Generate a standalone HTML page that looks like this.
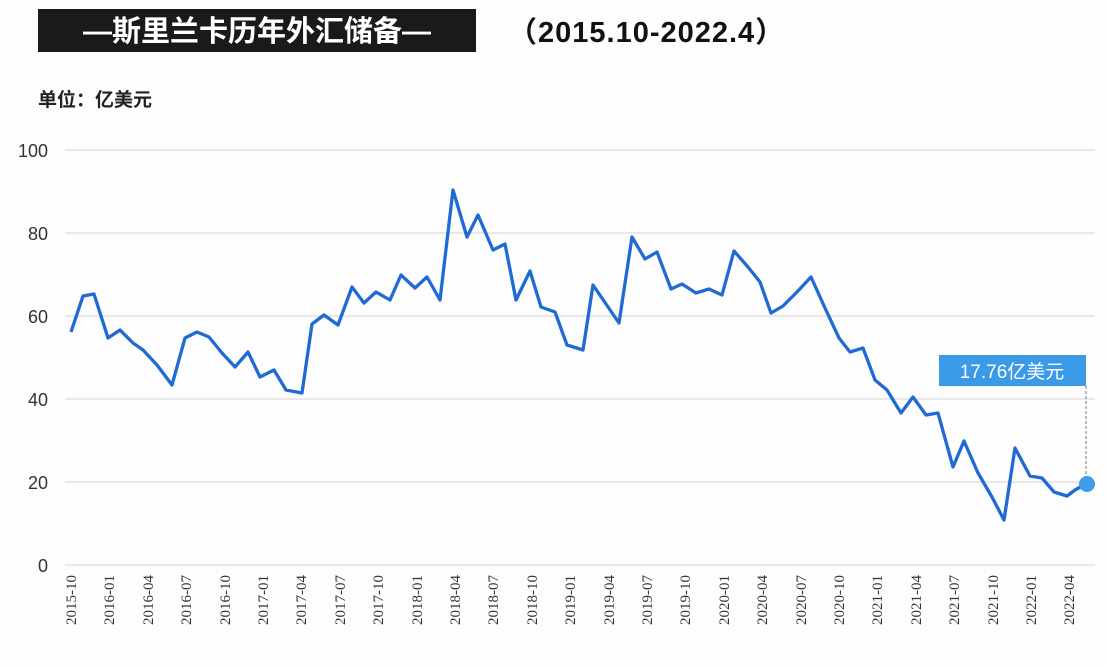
<!DOCTYPE html>
<html><head><meta charset="utf-8"><style>
body{margin:0;width:1106px;height:664px;background:#fdfdfd;overflow:hidden;font-family:"Liberation Sans","Noto Sans CJK SC",sans-serif;}
</style></head><body>
<svg width="1106" height="664" xmlns="http://www.w3.org/2000/svg">
<rect x="38" y="9" width="438" height="43" fill="#1a1a1a"/>
<text x="257" y="41" text-anchor="middle" font-size="29" font-weight="bold" fill="#fff" font-family="Liberation Sans,Noto Sans CJK SC,sans-serif">—斯里兰卡历年外汇储备—</text>
<text x="508" y="42" font-size="29" font-weight="bold" fill="#111" letter-spacing="1" font-family="Liberation Sans,Noto Sans CJK SC,sans-serif">（2015.10-2022.4）</text>
<text x="38" y="106" font-size="19" font-weight="bold" fill="#222" font-family="Liberation Sans,Noto Sans CJK SC,sans-serif">单位：亿美元</text>
<g stroke="#dcdcdc" stroke-width="1.2">
<line x1="65" y1="150" x2="1095" y2="150"/><line x1="65" y1="233" x2="1095" y2="233"/><line x1="65" y1="316" x2="1095" y2="316"/><line x1="65" y1="399" x2="1095" y2="399"/><line x1="65" y1="482" x2="1095" y2="482"/><line x1="65" y1="565" x2="1095" y2="565"/>
</g>
<g font-size="18" fill="#333" text-anchor="end">
<text x="48" y="157">100</text><text x="48" y="240">80</text><text x="48" y="323">60</text><text x="48" y="406">40</text><text x="48" y="489">20</text><text x="48" y="572">0</text>
</g>
<g font-size="15" fill="#333" font-family="Liberation Serif,serif" text-anchor="end">
<text transform="translate(76,575) rotate(-90)">2015-10</text>
<text transform="translate(114,575) rotate(-90)">2016-01</text>
<text transform="translate(153,575) rotate(-90)">2016-04</text>
<text transform="translate(191,575) rotate(-90)">2016-07</text>
<text transform="translate(230,575) rotate(-90)">2016-10</text>
<text transform="translate(268,575) rotate(-90)">2017-01</text>
<text transform="translate(306,575) rotate(-90)">2017-04</text>
<text transform="translate(345,575) rotate(-90)">2017-07</text>
<text transform="translate(383,575) rotate(-90)">2017-10</text>
<text transform="translate(422,575) rotate(-90)">2018-01</text>
<text transform="translate(460,575) rotate(-90)">2018-04</text>
<text transform="translate(498,575) rotate(-90)">2018-07</text>
<text transform="translate(537,575) rotate(-90)">2018-10</text>
<text transform="translate(575,575) rotate(-90)">2019-01</text>
<text transform="translate(614,575) rotate(-90)">2019-04</text>
<text transform="translate(652,575) rotate(-90)">2019-07</text>
<text transform="translate(690,575) rotate(-90)">2019-10</text>
<text transform="translate(729,575) rotate(-90)">2020-01</text>
<text transform="translate(767,575) rotate(-90)">2020-04</text>
<text transform="translate(806,575) rotate(-90)">2020-07</text>
<text transform="translate(844,575) rotate(-90)">2020-10</text>
<text transform="translate(882,575) rotate(-90)">2021-01</text>
<text transform="translate(921,575) rotate(-90)">2021-04</text>
<text transform="translate(959,575) rotate(-90)">2021-07</text>
<text transform="translate(998,575) rotate(-90)">2021-10</text>
<text transform="translate(1036,575) rotate(-90)">2022-01</text>
<text transform="translate(1074,575) rotate(-90)">2022-04</text>
</g>
<polyline fill="none" stroke="#1f6ad4" stroke-width="3.3" stroke-linejoin="round" points="71,332 83,296 94,294 108,338 120,330 133,343 143,350 157,365 172,385 185,338 197,332 209,337 222,353 235,367 248,352 260,377 274,370 286,390 302,393 312,324 324,315 338,325 352,287 364,303 376,292 390,300 401,275 415,288 427,277 440,300 453,190 467,237 478,215 493,250 505,244 516,300 530,271 541,307 555,312 567,345 583,350 593,285 619,323 632,237 645,259 657,252 671,289 682,284 696,293 709,289 722,295 734,251 748,267 760,282 771,313 783,306 797,292 811,277 825,308 839,338 850,352 863,348 875,380 887,390 901,413 913,397 926,415 938,413 953,467 964,441 978,473 992,497 1004,520 1015,448 1030,476 1042,478 1054,492 1067,496 1075,490 1086,484"/>
<line x1="1086" y1="386" x2="1086" y2="480" stroke="#777" stroke-width="1" stroke-dasharray="3,2"/>
<circle cx="1087" cy="484" r="8" fill="#3d9cec"/>
<rect x="939" y="355" width="147" height="31" fill="#3a9ae8"/>
<text x="1012" y="378" text-anchor="middle" font-size="19" fill="#fff" font-family="Liberation Sans,Noto Sans CJK SC,sans-serif">17.76亿美元</text>
</svg>
</body></html>
